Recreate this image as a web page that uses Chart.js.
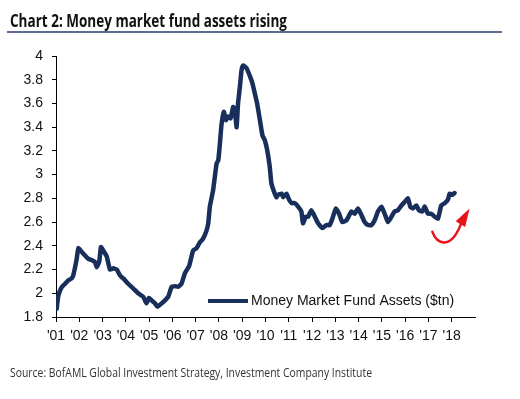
<!DOCTYPE html>
<html>
<head>
<meta charset="utf-8">
<script src="https://cdn.jsdelivr.net/npm/chart.js@4/dist/chart.umd.min.js"></script>
<style>
  html, body { margin: 0; padding: 0; background: #fff; }
  #wrap { width: 520px; height: 399px; position: relative; }
</style>
</head>
<body>
<div id="wrap"><canvas id="c" width="520" height="399"></canvas></div>
<script>
// ---- Data ----
const title = "Chart 2: Money market fund assets rising";
const sourceText = "Source: BofAML Global Investment Strategy, Investment Company Institute";
const seriesLabel = "Money Market Fund Assets ($tn)";

// Decimal years
const years = [
  2001.03, 2001.10, 2001.24, 2001.39, 2001.53, 2001.67, 2001.74, 2001.89, 2001.96,
  2002.10, 2002.24, 2002.39, 2002.53, 2002.67, 2002.75, 2002.86, 2002.93,
  2003.03, 2003.18, 2003.32, 2003.46, 2003.61, 2003.75, 2003.89,
  2004.10, 2004.32, 2004.53, 2004.75, 2004.89, 2004.99,
  2005.11, 2005.25, 2005.36, 2005.54, 2005.68, 2005.82, 2005.97,
  2006.11, 2006.25, 2006.39, 2006.54, 2006.72, 2006.89,
  2007.04, 2007.18, 2007.32, 2007.47, 2007.54, 2007.61, 2007.75, 2007.90, 2007.97,
  2008.04, 2008.11, 2008.21, 2008.30, 2008.39, 2008.50, 2008.61, 2008.68, 2008.76, 2008.82, 2008.90, 2008.97,
  2009.04, 2009.18, 2009.33, 2009.44, 2009.54, 2009.64, 2009.76, 2009.87, 2009.97,
  2010.07, 2010.18, 2010.25, 2010.36, 2010.47, 2010.54, 2010.69, 2010.76, 2010.90,
  2011.01, 2011.12, 2011.26, 2011.40, 2011.54, 2011.61, 2011.73, 2011.83, 2011.97,
  2012.12, 2012.26, 2012.45, 2012.62, 2012.76, 2012.90,
  2013.02, 2013.16, 2013.30, 2013.48, 2013.69, 2013.83, 2013.97,
  2014.12, 2014.26, 2014.40, 2014.55, 2014.69, 2014.83, 2014.98,
  2015.12, 2015.26, 2015.41, 2015.55, 2015.69, 2015.84, 2015.98,
  2016.12, 2016.22, 2016.33, 2016.48, 2016.59, 2016.74, 2016.84, 2016.98,
  2017.12, 2017.27, 2017.41, 2017.55, 2017.70, 2017.84, 2017.91,
  2018.03, 2018.12
];

// Assets, $tn
const assets = [
  1.87, 1.98, 2.05, 2.08, 2.11, 2.125, 2.15, 2.29, 2.38,
  2.35, 2.32, 2.29, 2.28, 2.265, 2.22, 2.27, 2.39,
  2.36, 2.31, 2.20, 2.21, 2.20, 2.15, 2.125,
  2.08, 2.04, 2.00, 1.97, 1.915, 1.96,
  1.94, 1.915, 1.886, 1.915, 1.94, 1.97, 2.055,
  2.06, 2.055, 2.08, 2.17, 2.23, 2.36,
  2.38, 2.43, 2.46, 2.53, 2.59, 2.73, 2.87, 3.095, 3.12,
  3.26, 3.42, 3.53, 3.46, 3.49, 3.475, 3.57, 3.545, 3.40, 3.60, 3.74, 3.88,
  3.92, 3.90, 3.83, 3.77, 3.685, 3.60, 3.46, 3.33, 3.29,
  3.21, 3.07, 2.93, 2.86, 2.81, 2.83, 2.84, 2.81, 2.84,
  2.79, 2.76, 2.76, 2.73, 2.69, 2.59, 2.645, 2.645, 2.70,
  2.645, 2.59, 2.55, 2.575, 2.575, 2.645,
  2.715, 2.67, 2.60, 2.615, 2.69, 2.67, 2.715,
  2.66, 2.60, 2.575, 2.575, 2.615, 2.69, 2.73,
  2.67, 2.60, 2.645, 2.69, 2.70, 2.74, 2.77,
  2.80, 2.73, 2.715, 2.74, 2.70, 2.69, 2.73, 2.67,
  2.67, 2.645, 2.63, 2.74, 2.76, 2.79, 2.84,
  2.83, 2.845
];

// Axis ticks
const xTickYears = [2001,2002,2003,2004,2005,2006,2007,2008,2009,2010,2011,2012,2013,2014,2015,2016,2017,2018];
const yTicks = [1.8,2,2.2,2.4,2.6,2.8,3,3.2,3.4,3.6,3.8,4];

// Red arrow annotation in data coordinates [year, value]: start, ctrl1, ctrl2, end, tip
const arrowPath = [[2017.167, 2.519], [2017.352, 2.406], [2017.996, 2.364], [2018.425, 2.600], [2018.768, 2.714]];

// ---- Chart ----
const NAVY = '#172f5a';
const FONT = '"Liberation Sans", Arial, sans-serif';

const decorPlugin = {
  id: 'decor',
  afterDraw(chart) {
    const ctx = chart.ctx;
    const xs = chart.scales.x, ys = chart.scales.y;
    ctx.save();
    // Title
    ctx.fillStyle = '#111';
    ctx.font = 'bold 17px "Open Sans", sans-serif';
    ctx.textBaseline = 'alphabetic';
    ctx.textAlign = 'left';
    let w = ctx.measureText(title).width;
    ctx.save();
    ctx.translate(10, 27);
    ctx.scale(277 / w, 1);
    ctx.fillText(title, 0, 0);
    ctx.restore();
    // Title rule
    ctx.strokeStyle = '#5b6d8b';
    ctx.lineWidth = 2;
    ctx.beginPath();
    ctx.moveTo(7, 32);
    ctx.lineTo(502, 32);
    ctx.stroke();
    // Source
    ctx.fillStyle = '#333';
    ctx.font = '12px "Open Sans", sans-serif';
    w = ctx.measureText(sourceText).width;
    ctx.save();
    ctx.translate(10, 377);
    ctx.scale(362 / w, 1);
    ctx.fillText(sourceText, 0, 0);
    ctx.restore();

    // Legend (inside chart area, bottom right)
    ctx.strokeStyle = NAVY;
    ctx.lineWidth = 4;
    ctx.lineCap = 'butt';
    ctx.beginPath();
    ctx.moveTo(208, 301);
    ctx.lineTo(248, 301);
    ctx.stroke();
    ctx.fillStyle = '#111';
    ctx.font = '14px ' + FONT;
    ctx.textBaseline = 'middle';
    ctx.fillText(seriesLabel, 251, 301);

    // Red arrow
    const p = arrowPath.map(([a, b]) => [xs.getPixelForValue(a), ys.getPixelForValue(b)]);
    ctx.strokeStyle = '#e8141c';
    ctx.fillStyle = '#e8141c';
    ctx.lineWidth = 2.5;
    ctx.lineCap = 'round';
    ctx.beginPath();
    ctx.moveTo(p[0][0], p[0][1]);
    ctx.bezierCurveTo(p[1][0], p[1][1], p[2][0], p[2][1], p[3][0], p[3][1]);
    ctx.stroke();
    const dx = p[4][0] - p[3][0], dy = p[4][1] - p[3][1];
    const len = Math.hypot(dx, dy);
    const nx = -dy / len, ny = dx / len;
    const hw = 5.5;
    const bx = p[3][0] - dx * 0.15, by = p[3][1] - dy * 0.15;
    ctx.beginPath();
    ctx.moveTo(p[4][0], p[4][1]);
    ctx.lineTo(bx + nx * hw, by + ny * hw);
    ctx.lineTo(bx - nx * hw, by - ny * hw);
    ctx.closePath();
    ctx.fill();
    ctx.restore();
  }
};

new Chart(document.getElementById('c'), {
  type: 'line',
  data: {
    datasets: [{
      label: seriesLabel,
      data: years.map((yr, i) => ({ x: yr, y: assets[i] })),
      borderColor: NAVY,
      borderWidth: 4.5,
      pointRadius: 0,
      tension: 0.15,
      borderJoinStyle: 'round',
      borderCapStyle: 'round',
      fill: false
    }]
  },
  options: {
    responsive: false,
    animation: false,
    devicePixelRatio: 1,
    layout: { padding: { top: 56, right: 45, left: 0, bottom: 52 } },
    plugins: { legend: { display: false }, tooltip: { enabled: false }, title: { display: false } },
    scales: {
      x: {
        type: 'linear',
        min: 2001,
        max: 2019,
        afterBuildTicks(scale) { scale.ticks = xTickYears.map(v => ({ value: v })); },
        afterFit(scale) { scale.height = 30; },
        ticks: {
          autoSkip: false,
          maxRotation: 0,
          padding: 6,
          color: '#111',
          font: { family: FONT, size: 14 },
          callback: v => "'" + String(Math.round(v)).slice(2)
        },
        grid: { drawOnChartArea: false, drawTicks: true, tickLength: 5, color: '#000', lineWidth: 1 },
        border: { display: true, color: '#000', width: 1 }
      },
      y: {
        type: 'linear',
        min: 1.8,
        max: 4,
        afterBuildTicks(scale) { scale.ticks = yTicks.map(v => ({ value: v })); },
        afterFit(scale) { scale.width = 56; },
        ticks: {
          padding: 9,
          color: '#111',
          font: { family: FONT, size: 14 },
          callback: v => String(+v.toFixed(1))
        },
        grid: { drawOnChartArea: false, drawTicks: true, tickLength: 4, color: '#000', lineWidth: 1 },
        border: { display: true, color: '#000', width: 1 }
      }
    }
  },
  plugins: [decorPlugin]
});
</script>
</body>
</html>
